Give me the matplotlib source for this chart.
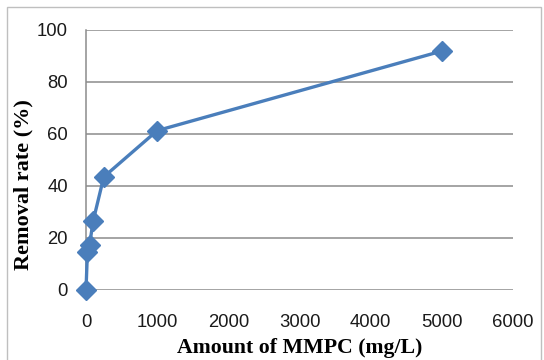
import matplotlib
matplotlib.use("Agg")
import matplotlib.pyplot as plt
from matplotlib.patches import Rectangle

amount = [0, 20, 50, 100, 250, 1000, 5000]
removal = [0, 14.7, 17.3, 26.5, 43.5, 61.3, 91.9]
xticks = [0, 1000, 2000, 3000, 4000, 5000, 6000]
yticks = [0, 20, 40, 60, 80, 100]

W, H = 544, 360
fig = plt.figure(figsize=(W / 100, H / 100), dpi=100)
fig.patches.append(Rectangle((7 / W, -0.1), (541 - 7) / W, (H - 7) / H + 0.1,
                             transform=fig.transFigure, fill=False,
                             edgecolor="#bfbfbf", linewidth=1.0))
ax = fig.add_axes([86 / W, 1 - 290 / H, (513 - 86) / W, (290 - 30) / H])

ax.plot(amount, removal, color="#4a7ebb", linewidth=2.4, marker="D",
        markersize=10.5, markerfacecolor="#4a7ebb", markeredgecolor="#4a7ebb",
        zorder=3, clip_on=False)

ax.set_xlim(0, 6000)
ax.set_ylim(0, 100)
ax.set_xticks(xticks)
ax.set_yticks(yticks)
ax.grid(axis="y", color="#8c8c8c", linewidth=1.1)
ax.set_axisbelow(True)
for s in ["top", "right", "bottom"]:
    ax.spines[s].set_visible(False)
ax.spines["left"].set_color("#8c8c8c")
ax.spines["left"].set_linewidth(1.1)
ax.tick_params(length=0, labelsize=13.3)
ax.tick_params(axis="x", pad=17)
ax.tick_params(axis="y", pad=13)
for lab in ax.get_xticklabels() + ax.get_yticklabels():
    lab.set_fontfamily("Liberation Sans")
    lab.set_color("#1a1a1a")

ax.set_xlabel("Amount of MMPC (mg/L)", fontsize=15.7, fontweight="bold",
              fontfamily="Liberation Serif", labelpad=5)
ax.set_ylabel("Removal rate (%)", fontsize=16, fontweight="bold",
              fontfamily="Liberation Serif")
ax.yaxis.set_label_coords(-0.123, 0.404)

fig.savefig("out.png", dpi=100)
